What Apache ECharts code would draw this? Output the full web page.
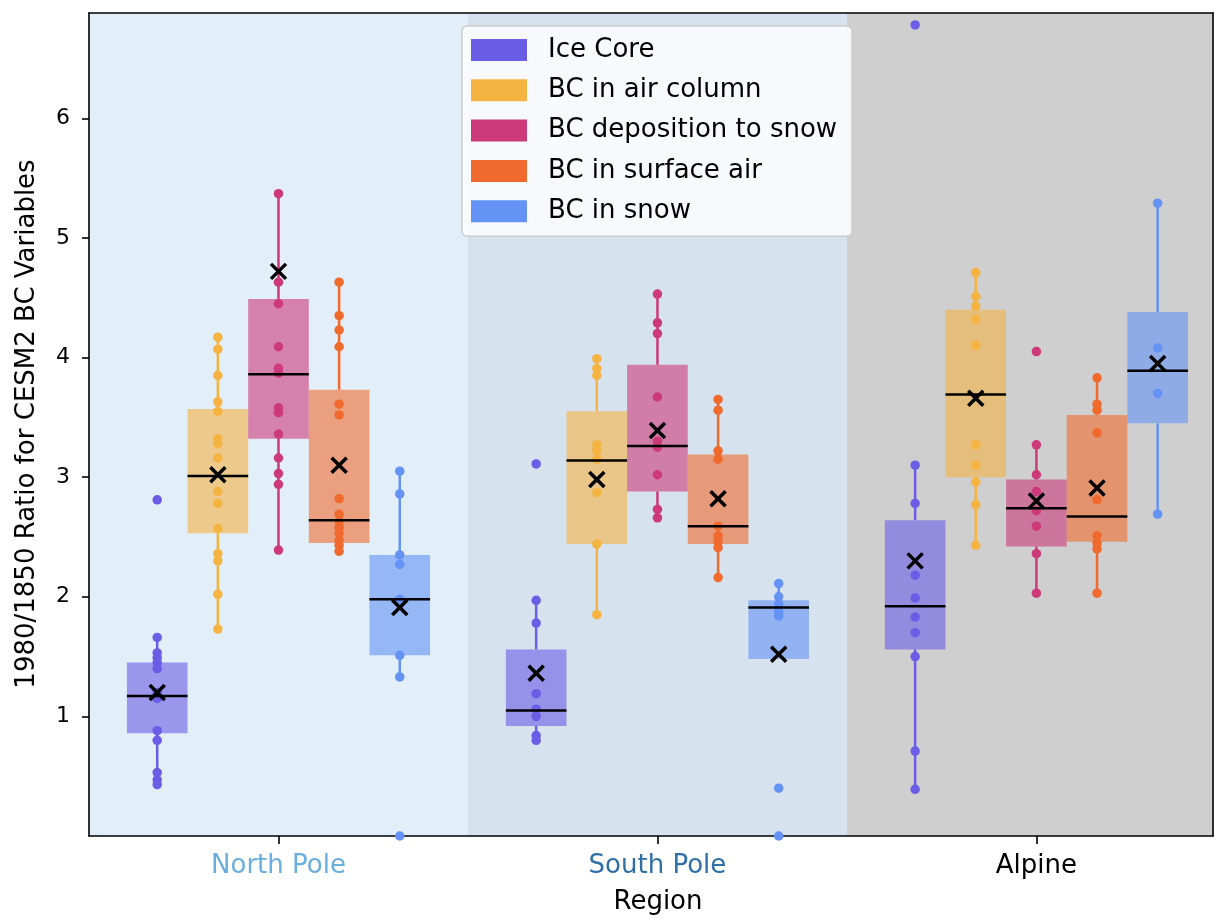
<!DOCTYPE html>
<html>
<head>
<meta charset="utf-8">
<script src="https://cdn.jsdelivr.net/npm/echarts@6/dist/echarts.min.js"></script>
<style>
html,body{margin:0;padding:0;background:#fff;}
#chart{width:1215px;height:919px;}
</style>
</head>
<body>
<div id="chart"></div>
<script>
// ---------- data ----------
const regions = ['North Pole', 'South Pole', 'Alpine'];
const variables = ['Ice Core', 'BC in air column', 'BC deposition to snow', 'BC in surface air', 'BC in snow'];
const yTicks = [1, 2, 3, 4, 5, 6];

// individual points per region [NP, SP, Alpine]
const iceCorePoints = [
  [2.81, 1.66, 1.53, 1.49, 1.45, 1.40, 1.20, 1.15, 0.88, 0.80, 0.53, 0.47, 0.43],
  [3.11, 1.97, 1.78, 1.19, 1.06, 1.00, 0.84, 0.80],
  [6.78, 3.10, 2.78, 2.18, 1.99, 1.83, 1.70, 1.50, 0.71, 0.39]
];
const airColumnPoints = [
  [4.17, 4.07, 3.85, 3.63, 3.55, 3.32, 3.28, 3.16, 2.88, 2.78, 2.57, 2.36, 2.30, 2.02, 1.73],
  [3.99, 3.91, 3.85, 3.27, 3.22, 3.15, 2.87, 2.44, 1.85],
  [4.71, 4.51, 4.43, 4.32, 4.10, 3.27, 3.10, 2.96, 2.77, 2.43]
];
const depositionPoints = [
  [5.37, 4.63, 4.45, 4.09, 3.91, 3.87, 3.58, 3.54, 3.36, 3.16, 3.03, 2.94, 2.39],
  [4.53, 4.29, 4.20, 3.67, 3.30, 3.25, 3.02, 2.73, 2.66],
  [4.05, 3.27, 3.02, 2.88, 2.72, 2.59, 2.36, 2.03]
];
const surfaceAirPoints = [
  [4.63, 4.35, 4.23, 4.09, 3.61, 3.52, 2.82, 2.69, 2.63, 2.58, 2.53, 2.47, 2.43, 2.38],
  [3.65, 3.56, 3.22, 3.15, 2.59, 2.51, 2.46, 2.41, 2.16],
  [3.83, 3.61, 3.56, 3.37, 2.81, 2.51, 2.45, 2.40, 2.03]
];
const snowPoints = [
  [3.05, 2.86, 2.35, 2.27, 1.98, 1.51, 1.33, 0.00],
  [2.11, 2.00, 1.94, 1.88, 1.84, 0.40, 0.00],
  [5.29, 4.08, 3.70, 2.69]
];

// box stats per region: [lower whisker, Q1, median, Q3, upper whisker]
const iceCoreBox = [[0.43, 0.86, 1.17, 1.45, 1.66], [0.80, 0.92, 1.05, 1.56, 1.97], [0.39, 1.56, 1.92, 2.64, 3.10]];
const airColumnBox = [[1.73, 2.53, 3.01, 3.57, 4.17], [1.85, 2.44, 3.14, 3.55, 3.99], [2.43, 3.00, 3.69, 4.40, 4.71]];
const depositionBox = [[2.39, 3.32, 3.86, 4.49, 5.37], [2.66, 2.88, 3.26, 3.94, 4.53], [2.03, 2.42, 2.74, 2.98, 3.27]];
const surfaceAirBox = [[2.38, 2.45, 2.64, 3.73, 4.63], [2.16, 2.44, 2.59, 3.19, 3.65], [2.03, 2.46, 2.67, 3.52, 3.83]];
const snowBox = [[1.32, 1.51, 1.98, 2.35, 3.05], [1.48, 1.48, 1.91, 1.97, 2.11], [2.69, 3.45, 3.89, 4.38, 5.29]];

// means per region
const iceCoreMean = [1.20, 1.36, 2.30];
const airColumnMean = [3.02, 2.98, 3.66];
const depositionMean = [4.72, 3.39, 2.80];
const surfaceAirMean = [3.10, 2.82, 2.91];
const snowMean = [1.91, 1.52, 3.95];

// ---------- styling ----------
const colors = ['#6b5de6', '#f5b342', '#cc3a7a', '#f06a2d', '#6492f5'];
const regionBg = ['#e2eef8', '#d6e2ee', '#cfcfcf'];
const regionLabelColors = ['#6aaee0', '#2e6fa8', '#000000'];
const offsets = [-0.32, -0.16, 0, 0.16, 0.32];
const boxWidth = 0.16;
const FONT = 'DejaVu Sans';

const allPoints = [iceCorePoints, airColumnPoints, depositionPoints, surfaceAirPoints, snowPoints];
const allBoxes = [iceCoreBox, airColumnBox, depositionBox, surfaceAirBox, snowBox];
const allMeans = [iceCoreMean, airColumnMean, depositionMean, surfaceAirMean, snowMean];

const X_MIN = -0.5, X_MAX = 2.466, Y_MIN = 0, Y_MAX = 6.88;

function hexA(hex, a) {
  const n = parseInt(hex.slice(1), 16);
  return 'rgba(' + ((n >> 16) & 255) + ',' + ((n >> 8) & 255) + ',' + (n & 255) + ',' + a + ')';
}

const series = [];

// background bands per region
series.push({
  type: 'custom',
  name: 'bg',
  silent: true,
  z: 0,
  clip: true,
  data: regions.map((r, i) => [i]),
  encode: { x: 0 },
  renderItem: function (params, api) {
    const i = api.value(0);
    const cs = params.coordSys;
    const a = api.coord([i - 0.5, Y_MAX]);
    const b = api.coord([i + 0.5, Y_MIN]);
    const x1 = Math.max(a[0], cs.x), x2 = Math.min(b[0], cs.x + cs.width);
    return { type: 'rect', shape: { x: x1, y: cs.y, width: x2 - x1, height: cs.height },
      style: { fill: regionBg[i] } };
  }
});

variables.forEach((name, k) => {
  const col = colors[k];
  // whiskers + boxes
  series.push({
    type: 'custom',
    name: name,
    z: 2,
    silent: true,
    data: allBoxes[k].map((b, i) => [i].concat(b)),
    encode: { x: 0, y: [1, 2, 3, 4, 5] },
    renderItem: function (params, api) {
      const xc = api.value(0) + offsets[k];
      const lo = api.value(1), q1 = api.value(2), q3 = api.value(4), hi = api.value(5);
      const half = boxWidth / 2;
      const tl = api.coord([xc - half, q3]);
      const br = api.coord([xc + half, q1]);
      const pHi = api.coord([xc, hi]), pQ3 = api.coord([xc, q3]);
      const pQ1 = api.coord([xc, q1]), pLo = api.coord([xc, lo]);
      return { type: 'group', children: [
        { type: 'line', shape: { x1: pHi[0], y1: pHi[1], x2: pQ3[0], y2: pQ3[1] }, style: { stroke: col, lineWidth: 2.5 } },
        { type: 'line', shape: { x1: pQ1[0], y1: pQ1[1], x2: pLo[0], y2: pLo[1] }, style: { stroke: col, lineWidth: 2.5 } },
        { type: 'rect', shape: { x: tl[0], y: tl[1], width: br[0] - tl[0], height: br[1] - tl[1] }, style: { fill: hexA(col, 0.6) } }
      ] };
    }
  });
  // points
  const pts = [];
  allPoints[k].forEach((arr, i) => arr.forEach(v => pts.push([i + offsets[k], v])));
  series.push({
    type: 'scatter',
    name: name,
    z: 3,
    silent: true,
    symbol: 'circle',
    symbolSize: 9.5,
    clip: true,
    itemStyle: { color: col, opacity: 1 },
    data: pts
  });
  // median + mean
  series.push({
    type: 'custom',
    name: name,
    z: 4,
    silent: true,
    data: allBoxes[k].map((b, i) => [i, b[2], allMeans[k][i]]),
    encode: { x: 0, y: [1, 2] },
    renderItem: function (params, api) {
      const xc = api.value(0) + offsets[k];
      const med = api.value(1), mean = api.value(2);
      const half = boxWidth / 2;
      const m1 = api.coord([xc - half, med]), m2 = api.coord([xc + half, med]);
      const c = api.coord([xc, mean]);
      const s = 7.5;
      return { type: 'group', children: [
        { type: 'line', shape: { x1: m1[0], y1: m1[1], x2: m2[0], y2: m2[1] }, style: { stroke: '#000', lineWidth: 2.5 } },
        { type: 'line', shape: { x1: c[0] - s, y1: c[1] - s, x2: c[0] + s, y2: c[1] + s }, style: { stroke: '#000', lineWidth: 3.5 } },
        { type: 'line', shape: { x1: c[0] - s, y1: c[1] + s, x2: c[0] + s, y2: c[1] - s }, style: { stroke: '#000', lineWidth: 3.5 } }
      ] };
    }
  });
});

const chart = echarts.init(document.getElementById('chart'), null, { renderer: 'canvas' });
chart.setOption({
  animation: false,
  backgroundColor: '#ffffff',
  grid: { left: 89, right: 2, top: 13, bottom: 83, containLabel: false },
  xAxis: [{
    type: 'value', min: X_MIN, max: X_MAX, position: 'bottom',
    splitLine: { show: false },
    axisLine: { show: true, onZero: false, lineStyle: { color: '#000', width: 1.6 } },
    axisTick: { show: true, customValues: [0, 1, 2], length: 8, lineStyle: { color: '#000', width: 1.6 } },
    axisLabel: {
      show: true, customValues: [0, 1, 2], margin: 17,
      fontFamily: FONT, fontSize: 26,
      formatter: v => regions[Math.round(v)],
      color: (v) => regionLabelColors[Math.round(v)]
    }
  }, {
    type: 'value', min: X_MIN, max: X_MAX, position: 'top',
    splitLine: { show: false }, axisTick: { show: false }, axisLabel: { show: false },
    axisLine: { show: true, onZero: false, lineStyle: { color: '#000', width: 1.6 } }
  }],
  yAxis: [{
    type: 'value', min: Y_MIN, max: Y_MAX, position: 'left',
    splitLine: { show: false },
    axisLine: { show: true, onZero: false, lineStyle: { color: '#000', width: 1.6 } },
    axisTick: { show: true, customValues: yTicks, length: 7, lineStyle: { color: '#000', width: 1.6 } },
    axisLabel: { show: true, customValues: yTicks, margin: 19, fontFamily: FONT, fontSize: 22, color: '#000' }
  }, {
    type: 'value', min: Y_MIN, max: Y_MAX, position: 'right',
    splitLine: { show: false }, axisTick: { show: false }, axisLabel: { show: false },
    axisLine: { show: true, onZero: false, lineStyle: { color: '#000', width: 1.6 } }
  }],
  legend: {
    show: true,
    orient: 'vertical',
    left: 462, top: 26,
    icon: 'rect',
    itemWidth: 56, itemHeight: 22,
    itemGap: 14.3,
    padding: [11, 15, 12, 9],
    backgroundColor: 'rgba(255,255,255,0.8)',
    borderColor: '#cccccc', borderWidth: 1.5, borderRadius: 5,
    selectedMode: false,
    textStyle: { fontFamily: FONT, fontSize: 26, color: '#000', lineHeight: 26, padding: [0, 0, 0, 16] },
    data: variables.map((v, i) => ({ name: v, itemStyle: { color: colors[i], opacity: 1, borderWidth: 0 } }))
  },
  graphic: [
    { type: 'text', x: 27, y: 424, rotation: Math.PI / 2, z: 10,
      style: { text: '1980/1850 Ratio for CESM2 BC Variables', font: '26px "DejaVu Sans"', fill: '#000', textAlign: 'center', textVerticalAlign: 'middle' } },
    { type: 'text', x: 658, y: 902, z: 10,
      style: { text: 'Region', font: '26px "DejaVu Sans"', fill: '#000', textAlign: 'center', textVerticalAlign: 'middle' } }
  ],
  series: series
});
</script>
</body>
</html>
